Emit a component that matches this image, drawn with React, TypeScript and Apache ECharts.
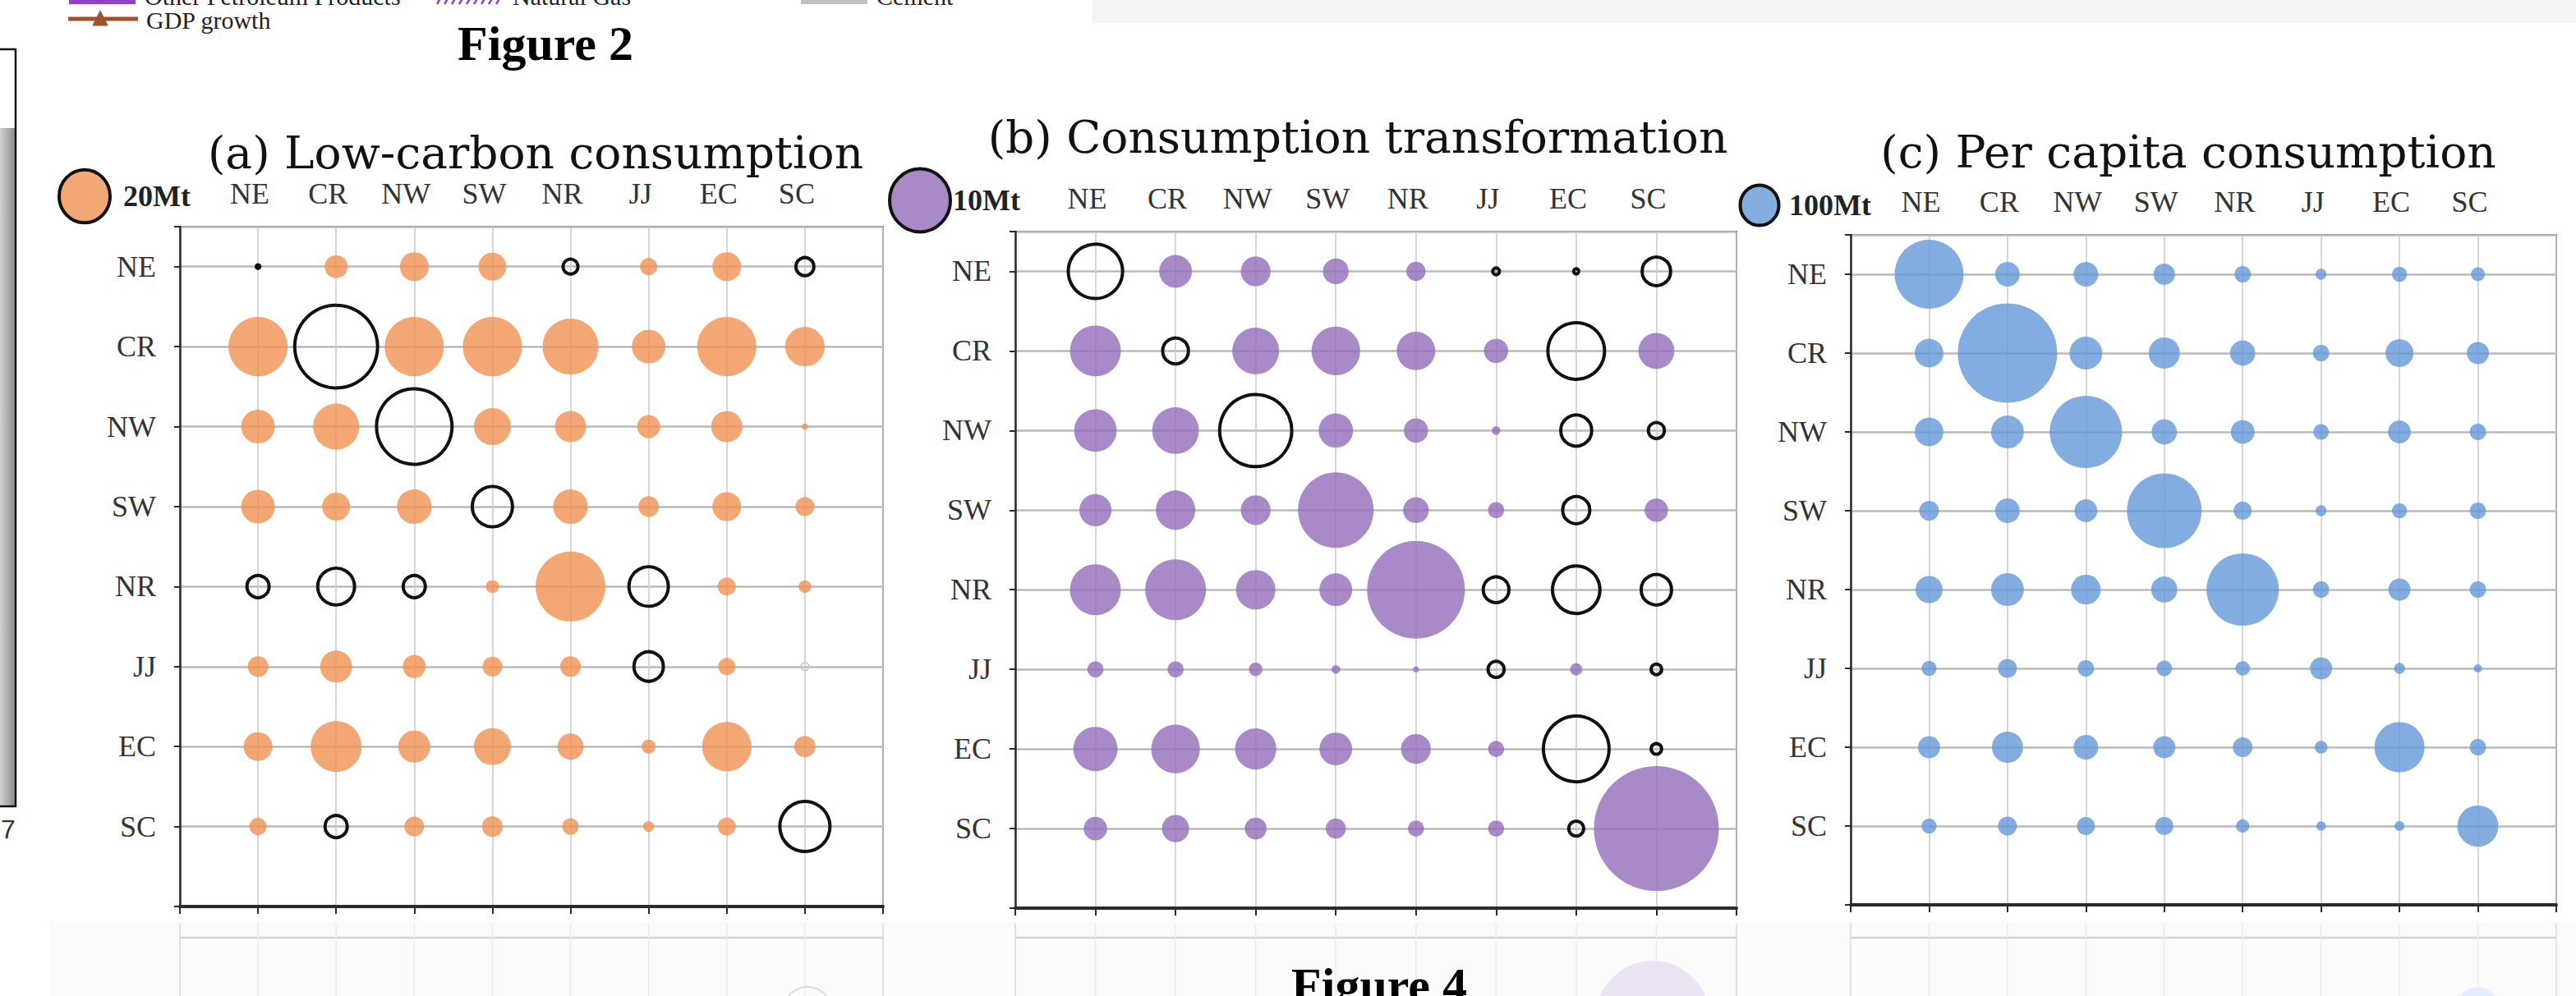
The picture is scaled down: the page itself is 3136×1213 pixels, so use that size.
import React, { useEffect, useRef } from "react";
import * as echarts from "echarts";

// ---------- data ----------
const regions = ["NE", "CR", "NW", "SW", "NR", "JJ", "EC", "SC"];

// Mt, rows = region of origin (NE..SC), columns = NE..SC. Negative = hollow bubble.
const lowCarbon = [
  [-0.1, 4.1, 6.4, 6.0, -1.7, 2.3, 6.4, -2.5],
  [27.0, -53.0, 27.0, 27.0, 24.1, 8.7, 27.0, 12.0],
  [8.7, 16.3, -44.0, 10.5, 7.5, 4.1, 7.5, 0.3],
  [8.7, 6.0, 9.2, -12.5, 9.2, 3.3, 6.4, 2.8],
  [-3.8, -10.5, -3.8, 1.3, 37.6, -12.0, 2.5, 1.2],
  [3.3, 7.9, 4.1, 3.0, 3.3, -6.7, 2.3, -0.5],
  [6.4, 20.0, 7.9, 10.5, 5.3, 1.5, 18.7, 3.5],
  [2.3, -3.8, 3.0, 3.3, 2.1, 0.9, 2.5, -19.4],
];
const lowCarbonFaint = [["JJ", "SC"]];

const transformation = [
  [-8.0, 2.9, 2.4, 1.8, 1.0, -0.12, -0.07, -2.2],
  [7.0, -1.8, 5.9, 6.4, 4.0, 1.6, -8.7, 3.5],
  [4.9, 5.9, -14.1, 3.2, 1.6, 0.2, -2.6, -0.7],
  [2.8, 4.2, 2.4, 15.5, 1.8, 0.7, -2.0, 1.5],
  [7.0, 10.0, 4.2, 2.9, 25.9, -1.8, -6.1, -2.5],
  [0.7, 0.7, 0.5, 0.2, 0.1, -0.7, 0.4, -0.3],
  [5.3, 6.4, 4.6, 2.9, 2.4, 0.7, -11.7, -0.3],
  [1.5, 2.0, 1.3, 1.1, 0.7, 0.7, -0.6, 42.2],
];

const perCapita = [
  [319, 41, 41, 31, 18, 8, 15, 13],
  [55, 663, 72, 65, 43, 18, 52, 33],
  [55, 72, 351, 43, 38, 16, 35, 18],
  [26, 41, 35, 375, 22, 8, 15, 18],
  [49, 72, 59, 46, 351, 18, 33, 18],
  [15, 24, 18, 16, 14, 33, 8, 4.5],
  [33, 65, 41, 33, 26, 11, 168, 18],
  [15, 24, 22, 22, 12, 6, 6.5, 113],
];

const refValues = [20, 10, 100];
const refLabels = ["20Mt", "10Mt", "100Mt"];
const titles = [
  "(a) Low-carbon consumption",
  "(b) Consumption transformation",
  "(c) Per capita consumption",
];

// ---------- layout / style ----------
const W = 3136;
const H = 1213;
const SERIF = "Liberation Serif";

const panels = [
  {
    data: lowCarbon,
    faint: lowCarbonFaint,
    refDiam: 62,
    fill: "rgba(239,145,83,0.8)",
    legendFill: "#F2A775",
    grid: { left: 219, top: 276, width: 856, height: 828 },
    titleX: 652,
    titleY: 186,
    legend: { cx: 103, cy: 239, tx: 150 },
  },
  {
    data: transformation,
    faint: [],
    refDiam: 74,
    fill: "rgba(147,109,187,0.8)",
    legendFill: "#A98AC9",
    grid: { left: 1236, top: 282, width: 878, height: 824 },
    titleX: 1653,
    titleY: 167,
    legend: { cx: 1120, cy: 244, tx: 1160 },
  },
  {
    data: perCapita,
    faint: [],
    refDiam: 47,
    fill: "rgba(100,153,218,0.8)",
    legendFill: "#83ADE1",
    grid: { left: 2253, top: 286, width: 859, height: 816 },
    titleX: 2664,
    titleY: 185,
    legend: { cx: 2142, cy: 250, tx: 2178 },
  },
];

function buildOption() {
  const grid: any[] = [];
  const xAxis: any[] = [];
  const yAxis: any[] = [];
  const series: any[] = [];
  const graphic: any[] = [];

  // decorative remnants of surrounding page
  graphic.push(
    { type: "rect", shape: { x: 1330, y: 0, width: W - 1330, height: 28 }, style: { fill: "#f2f5f4" }, silent: true },
    { type: "rect", shape: { x: 60, y: 1122, width: W - 60, height: H - 1122 }, style: { fill: "#fbfbfb" }, silent: true, z: -10 },
    // left frame of previous figure
    {
      type: "rect",
      shape: { x: -4, y: 156, width: 23, height: 826 },
      style: {
        fill: { type: "linear", x: 0, y: 0, x2: 1, y2: 0, colorStops: [{ offset: 0, color: "#dedede" }, { offset: 1, color: "#8a8a8a" }] },
      },
      silent: true,
    },
    { type: "rect", shape: { x: -4, y: 60, width: 23, height: 922 }, style: { fill: "none", stroke: "#111", lineWidth: 2.5 }, silent: true },
    { type: "text", style: { x: 1, y: 1010, text: "7", font: "32px 'Liberation Sans'", fill: "#333", textAlign: "left", textVerticalAlign: "middle" }, silent: true },
    // top legend remnants
    { type: "rect", shape: { x: 84, y: -8, width: 81, height: 13 }, style: { fill: "#8b45c3" }, silent: true },
    { type: "text", style: { x: 176, y: -5, text: "Other Petroleum Products", font: "30px 'Liberation Serif'", fill: "#222", textVerticalAlign: "middle" }, silent: true },
    { type: "text", style: { x: 624, y: -5, text: "Natural Gas", font: "30px 'Liberation Serif'", fill: "#222", textVerticalAlign: "middle" }, silent: true },
    { type: "rect", shape: { x: 975, y: -8, width: 81, height: 13 }, style: { fill: "#c0c0c0" }, silent: true },
    { type: "text", style: { x: 1067, y: -5, text: "Cement", font: "30px 'Liberation Serif'", fill: "#222", textVerticalAlign: "middle" }, silent: true },
    { type: "line", shape: { x1: 83, y1: 23, x2: 168, y2: 23 }, style: { stroke: "#a0522d", lineWidth: 5 }, silent: true },
    { type: "polygon", shape: { points: [[122, 13], [113, 31], [131, 31]] }, style: { fill: "#a0522d", stroke: "#a0522d" }, silent: true },
    { type: "text", style: { x: 178, y: 24, text: "GDP growth", font: "30px 'Liberation Serif'", fill: "#222", textVerticalAlign: "middle" }, silent: true },
    { type: "text", style: { x: 664, y: 53, text: "Figure 2", font: "bold 60px 'Liberation Serif'", fill: "#000", textAlign: "center", textVerticalAlign: "middle" }, silent: true },
    { type: "text", style: { x: 1679, y: 1200, text: "Figure 4", font: "bold 60px 'Liberation Serif'", fill: "#000", textAlign: "center", textVerticalAlign: "middle" }, silent: true, z: 5 }
  );
  // hatched "Natural Gas" swatch
  for (let k = 0; k < 9; k++) {
    const x0 = 532 + k * 9;
    graphic.push({ type: "line", shape: { x1: x0, y1: 5, x2: x0 + 8, y2: -8 }, style: { stroke: "#8b45c3", lineWidth: 2.5 }, silent: true });
  }

  panels.forEach((p, k) => {
    const g = p.grid;
    grid.push({ left: g.left, top: g.top, width: g.width, height: g.height, show: true, borderColor: "#6a6a6a", borderWidth: 2, backgroundColor: "#fff" });
    xAxis.push(
      {
        gridIndex: k,
        type: "value",
        min: 0,
        max: 9,
        interval: 1,
        position: "bottom",
        axisLine: { show: true, onZero: false, lineStyle: { color: "#2b2b2b", width: 4 } },
        axisTick: { show: true, length: 9, lineStyle: { color: "#2b2b2b", width: 2 } },
        axisLabel: { show: false },
        splitLine: { show: true, lineStyle: { color: "#c8c8c8", width: 1.5 } },
      },
      {
        gridIndex: k,
        type: "value",
        min: 0,
        max: 9,
        interval: 1,
        position: "top",
        axisLine: { show: false },
        axisTick: { show: false },
        splitLine: { show: false },
        axisLabel: {
          show: true,
          margin: 22,
          padding: [0, 20, 0, 0],
          fontFamily: SERIF,
          fontSize: 36,
          color: "#333",
          formatter: (v: number) => (Number.isInteger(v) && v >= 1 && v <= 8 ? regions[v - 1] : ""),
        },
      }
    );
    yAxis.push({
      gridIndex: k,
      type: "value",
      min: 0,
      max: 8.5,
      interval: 1,
      axisLine: { show: true, onZero: false, lineStyle: { color: "#2b2b2b", width: 2.5 } },
      axisTick: { show: true, length: 7, lineStyle: { color: "#2b2b2b", width: 2 } },
      axisLabel: {
        margin: 29,
        fontFamily: SERIF,
        fontSize: 36,
        color: "#333",
        verticalAlign: "middle",
        padding: [0, 0, 16, 0],
        formatter: (v: number) => (Number.isInteger(v) && v >= 1 && v <= 8 ? regions[8 - v] : ""),
      },
      splitLine: { show: true, lineStyle: { color: "#bababa", width: 2.5 } },
    });

    const scale = p.refDiam / Math.sqrt(refValues[k]);
    const size = (val: number[]) => scale * Math.sqrt(Math.abs(val[2]));
    const isFaint = (r: number, c: number) => p.faint.some((f) => f[0] === regions[r] && f[1] === regions[c]);
    const filled: number[][] = [];
    const hollow: number[][] = [];
    const faint: number[][] = [];
    p.data.forEach((row, r) =>
      row.forEach((v, c) => {
        const pt = [c + 1, 8 - r, v];
        if (isFaint(r, c)) faint.push(pt);
        else if (v >= 0) filled.push(pt);
        else hollow.push(pt);
      })
    );
    series.push(
      {
        type: "scatter",
        xAxisIndex: 2 * k,
        yAxisIndex: k,
        data: filled,
        symbol: "circle",
        symbolSize: size,
        itemStyle: { color: p.fill, opacity: 1 },
        z: 3,
      },
      {
        type: "scatter",
        xAxisIndex: 2 * k,
        yAxisIndex: k,
        data: hollow,
        symbol: "circle",
        symbolSize: size,
        itemStyle: { color: "rgba(255,255,255,0)", borderColor: "#111", borderWidth: 4, opacity: 1 },
        z: 4,
      },
      {
        type: "scatter",
        xAxisIndex: 2 * k,
        yAxisIndex: k,
        data: faint,
        symbol: "circle",
        symbolSize: size,
        itemStyle: { color: "rgba(255,255,255,0)", borderColor: "#c8c8c8", borderWidth: 1.5, opacity: 1 },
        z: 4,
      }
    );

    // titles and size keys
    graphic.push(
      {
        type: "text",
        style: { x: p.titleX, y: p.titleY, text: titles[k], font: "55px 'DejaVu Serif'", fill: "#111", textAlign: "center", textVerticalAlign: "middle" },
        silent: true,
      },
      {
        type: "ellipse",
        shape: { cx: p.legend.cx, cy: p.legend.cy, rx: p.refDiam / 2, ry: (p.refDiam / 2) * 1.04 },
        style: { fill: p.legendFill, stroke: "#111", lineWidth: 4 },
        silent: true,
      },
      {
        type: "text",
        style: { x: p.legend.tx, y: p.legend.cy, text: refLabels[k], font: "bold 36px 'Liberation Serif'", fill: "#222", textVerticalAlign: "middle" },
        silent: true,
      }
    );

    // faded reflection of the next figure below the plot
    const fy = 1142;
    graphic.push({ type: "line", shape: { x1: g.left, y1: fy, x2: g.left + g.width, y2: fy }, style: { stroke: "#d4d4d4", lineWidth: 2.5 }, silent: true, z: -5 });
    for (let c = 0; c <= 9; c++) {
      const x = g.left + (g.width * c) / 9;
      graphic.push({ type: "line", shape: { x1: x, y1: 1125, x2: x, y2: H }, style: { stroke: c === 0 || c === 9 ? "#d8d8d8" : "#ececec", lineWidth: 1.5 }, silent: true, z: -5 });
    }
  });

  graphic.push(
    { type: "ellipse", shape: { cx: 2012, cy: 1247, rx: 72, ry: 77 }, style: { fill: "#ece4f4" }, silent: true, z: -4 },
    { type: "circle", shape: { cx: 983, cy: 1232, r: 30 }, style: { fill: "none", stroke: "#dcdcdc", lineWidth: 2 }, silent: true, z: -4 },
    { type: "circle", shape: { cx: 3016, cy: 1228, r: 26 }, style: { fill: "#e4edf9" }, silent: true, z: -4 }
  );

  return {
    animation: false,
    backgroundColor: "#fff",
    grid,
    xAxis,
    yAxis,
    series,
    graphic: { elements: graphic },
  };
}

export default function App() {
  const ref = useRef<HTMLDivElement>(null);
  useEffect(() => {
    document.body.style.margin = "0";
    document.body.style.overflow = "hidden";
    if (!ref.current) return;
    const chart = echarts.init(ref.current, undefined, { renderer: "svg" });
    chart.setOption(buildOption() as any);
    return () => chart.dispose();
  }, []);
  return <div ref={ref} style={{ position: "absolute", left: 0, top: 0, width: W, height: H, background: "#fff" }} />;
}
